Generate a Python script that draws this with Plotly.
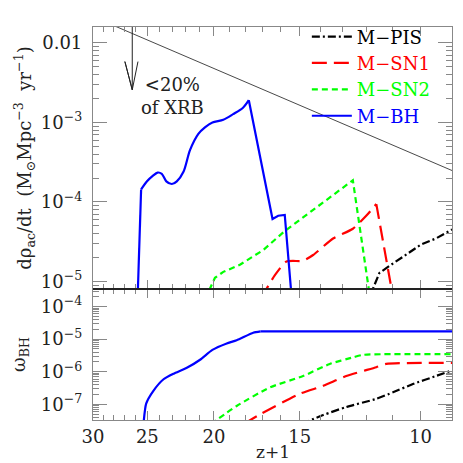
import numpy as np
import plotly.graph_objects as go
from plotly.subplots import make_subplots

# accretion-rate curves (upper panel): z+1 and rate
bh_rise_z1 = [25.9, 25.53]
bh_rise = [3e-6, 1.435e-4]
bh_z1 = [25.53, 25.03, 24.53, 24.16, 23.82, 23.46, 23.03, 22.65, 22.14, 21.67, 21.07,
         20.61, 20.1, 19.38, 18.75, 18.14, 17.79]
bh_rate = [1.435e-4, 1.816e-4, 2.14e-4, 2.34e-4, 2.26e-4, 1.816e-4, 1.68e-4, 1.816e-4,
           2.415e-4, 4.48e-4, 7.18e-4, 8.67e-4, 1.0e-3, 1.08e-3, 1.27e-3, 1.53e-3, 1.905e-3]
bh_fall_z1 = [17.79, 16.43, 16.12, 15.77, 15.3]
bh_fall = [1.905e-3, 6.1e-5, 6.7e-5, 6.85e-5, 3e-6]
sn2_z1 = [20.6, 19.93, 19.38, 18.33, 16.95, 15.77, 12.55, 11.7]
sn2_rate = [6e-6, 1.11e-5, 1.32e-5, 1.62e-5, 2.48e-5, 4.3e-5, 1.87e-4, 3e-6]
sn1_z1 = [17.1, 16.3, 15.68, 14.83, 14.34, 13.41, 12.55, 12.0, 11.6]
sn1_rate = [6e-6, 1.2e-5, 1.78e-5, 1.82e-5, 2.15e-5, 3.47e-5, 4.6e-5, 6.7e-5, 9.4e-5]
sn1_fall_z1 = [11.6, 10.8]
sn1_fall = [9.4e-5, 3e-6]
pis_z1 = [11.9, 11.48, 11.04, 10.5, 9.98, 9.5, 9.0]
pis_rate = [6e-6, 1.28e-5, 1.62e-5, 2.15e-5, 2.92e-5, 3.47e-5, 4.5e-5]

# cumulative mass density (lower panel)
bh_om_z1 = [25.35, 25.1, 24.5, 23.68, 22.9, 21.9, 20.95, 20.1, 19.16, 18.53, 17.53, 17.1]
bh_om = [2e-8, 1.05e-7, 2.6e-7, 5.9e-7, 8.7e-7, 1.32e-6, 2.34e-6, 4.7e-6, 7.4e-6, 9.3e-6,
         1.58e-5, 1.74e-5]
bh_om_flat_z1 = [17.1, 9.0]
bh_om_flat = [1.74e-5, 1.74e-5]
sn2_om_z1 = [20.2, 18.53, 16.58, 14.83, 13.56, 12.55, 12.13, 9.0]
sn2_om = [2.5e-8, 8.9e-8, 3.3e-7, 7.4e-7, 1.74e-6, 2.75e-6, 3.3e-6, 3.45e-6]
sn1_om_z1 = [18.1, 17.05, 15.0, 13.86, 12.83, 11.6, 11.22, 9.0]
sn1_om = [2.5e-8, 5.2e-8, 2.1e-7, 3.7e-7, 7.4e-7, 1.38e-6, 1.74e-6, 1.86e-6]
pis_om_z1 = [14.9, 13.86, 12.83, 11.6, 10.97, 10.26, 9.5, 9.0]
pis_om = [2.5e-8, 4.7e-8, 8.3e-8, 1.48e-7, 2.34e-7, 4.2e-7, 7.4e-7, 1.1e-6]

# XRB upper limit line and arrow
xrb_z1 = [30, 9]
xrb_rate = [10**-1.67, 10**-3.605]
arrow_z1 = 26.3
arrow_top = 10**-1.6
arrow_tip = 10**-2.59
arrow_head = 10**-2.235

x_ticks = [30, 25, 20, 15, 10]
x_minor = list(range(9, 31))

BLACK, RED, GREEN, BLUE = "black", "#ff0000", "#00ff00", "#0000ff"
DASHDOT, LONGDASH, SHORTDASH = "8px,3px,2px,3px", "15px,7px", "6px,4px"
W = 2.2

fig = make_subplots(rows=2, cols=1, shared_xaxes=True, vertical_spacing=0,
                    row_heights=[2, 1])

fig.add_trace(go.Scatter(x=xrb_z1, y=xrb_rate, mode="lines", showlegend=False,
                         line=dict(color="#333", width=0.9)), row=1, col=1)


def label(name, col):
    return f'<span style="color:{col}">{name}</span>'


def curve(xs, ys, col, dash, row, name=None, group=None, smooth=0.0):
    line = dict(color=col, width=W, dash=dash)
    if smooth:
        line.update(shape="spline", smoothing=smooth)
    fig.add_trace(go.Scatter(x=xs, y=ys, mode="lines", line=line, legendgroup=group,
                             name=name, showlegend=name is not None), row=row, col=1)


# upper panel
curve(pis_z1, pis_rate, BLACK, DASHDOT, 1, label("M\u2212PIS", BLACK), "pis")
curve(sn1_z1, sn1_rate, RED, LONGDASH, 1, label("M\u2212SN1", RED), "sn1", smooth=0.6)
curve(sn1_fall_z1, sn1_fall, RED, LONGDASH, 1, group="sn1")
curve(sn2_z1, sn2_rate, GREEN, SHORTDASH, 1, label("M\u2212SN2", GREEN), "sn2")
curve(bh_z1, bh_rate, BLUE, "solid", 1, label("M\u2212BH", BLUE), "bh", smooth=0.8)
curve(bh_rise_z1, bh_rise, BLUE, "solid", 1, group="bh")
curve(bh_fall_z1, bh_fall, BLUE, "solid", 1, group="bh")

# lower panel
curve(pis_om_z1, pis_om, BLACK, DASHDOT, 2, smooth=0.6)
curve(sn1_om_z1, sn1_om, RED, LONGDASH, 2, smooth=0.6)
curve(sn2_om_z1, sn2_om, GREEN, SHORTDASH, 2, smooth=0.6)
curve(bh_om_z1, bh_om, BLUE, "solid", 2, smooth=0.6)
curve(bh_om_flat_z1, bh_om_flat, BLUE, "solid", 2)

# the arrow: shaft and open head
head_l = arrow_z1 * 1.025
head_r = arrow_z1 * 0.981
fig.add_trace(go.Scatter(
    x=[arrow_z1, arrow_z1, head_l, arrow_z1, head_r],
    y=[arrow_top, arrow_tip, arrow_head, arrow_tip, arrow_head],
    mode="lines", line=dict(color="#222", width=1), showlegend=False), row=1, col=1)

fig.add_annotation(x=np.log10(22.97), y=-2.667, xref="x", yref="y",
                   text="&lt;20%<br>of XRB", showarrow=False,
                   font=dict(size=18, color="#222"))

ser = "DejaVu Serif"
axis_common = dict(showline=True, linecolor="#888", linewidth=1.2, mirror="ticks",
                   ticks="inside", tickcolor="#888", tickwidth=1.3, showgrid=False,
                   zeroline=False, tickfont=dict(family=ser, size=18, color="#222"))

x_common = dict(axis_common, type="log", autorange=False,
                range=[np.log10(30), np.log10(9)],
                tickvals=x_ticks, ticktext=[str(v) for v in x_ticks], ticklen=9,
                minor=dict(tickvals=x_minor, ticks="inside", ticklen=5,
                           tickcolor="#888", tickwidth=1.2))
fig.update_xaxes(**x_common, showticklabels=False, row=1, col=1)
fig.update_xaxes(**x_common, showticklabels=True, row=2, col=1)

top_vals = [1e-5, 1e-4, 1e-3, 1e-2]
top_text = ["10<sup>\u22125</sup>", "10<sup>\u22124</sup>", "10<sup>\u22123</sup>", "0.01"]
bot_vals = [1e-7, 1e-6, 1e-5, 1e-4]
bot_text = ["10<sup>\u22127</sup>", "10<sup>\u22126</sup>", "10<sup>\u22125</sup>",
            "10<sup>\u22124</sup>"]


def minors(lo, hi):
    return [m * 10.0**e for e in range(lo, hi) for m in range(2, 10)]


fig.update_yaxes(**axis_common, type="log", autorange=False, range=[-5.095, -1.80],
                 tickvals=top_vals, ticktext=top_text, ticklen=14, ticklabelstandoff=6,
                 minor=dict(tickvals=minors(-6, -1), ticks="inside", ticklen=6,
                            tickcolor="#888", tickwidth=1.2),
                 title=dict(text="d\u03c1<sub>ac</sub>/dt  (M<sub>\u2299</sub>Mpc<sup>\u22123</sup>  yr<sup>\u22121</sup>)",
                            font=dict(family=ser, size=18, color="#222"), standoff=4),
                 row=1, col=1)
fig.update_yaxes(**axis_common, type="log", autorange=False, range=[-7.48, -3.46],
                 tickvals=bot_vals, ticktext=bot_text, ticklen=14, ticklabelstandoff=6,
                 minor=dict(tickvals=minors(-8, -3), ticks="inside", ticklen=6,
                            tickcolor="#888", tickwidth=1.2),
                 title=dict(text="\u03c9<sub>BH</sub>",
                            font=dict(family=ser, size=18, color="#222"), standoff=10),
                 row=2, col=1)

fig.add_shape(type="line", xref="paper", yref="paper", x0=0, x1=1, y0=1/3, y1=1/3,
              line=dict(color="black", width=1.5))

fig.add_annotation(x=0.5, y=0, xref="paper", yref="paper", yshift=-32,
                   text="z+1", showarrow=False, yanchor="middle",
                   font=dict(family=ser, size=17, color="#222"))

# page body has an 8px margin, so the figure is drawn 8px smaller and offset
fig.update_layout(
    width=455, height=455,
    margin=dict(l=78, r=10, t=10, b=43),
    plot_bgcolor="white", paper_bgcolor="white",
    font=dict(family=ser, size=18, color="#222"),
    legend=dict(x=0.955, y=1.022, xanchor="right", yanchor="top", bgcolor="rgba(0,0,0,0)",
                font=dict(family=ser, size=18), tracegroupgap=0, itemwidth=40,
                traceorder="normal"),
)

fig.write_html("out.html")
